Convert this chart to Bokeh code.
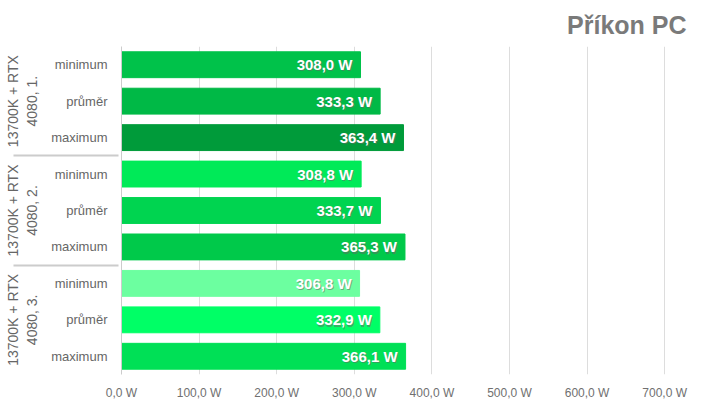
from bokeh.plotting import figure
from bokeh.models import FactorRange, ColumnDataSource, FixedTicker, CustomJSTickFormatter
from bokeh.embed import file_html
from bokeh.resources import INLINE

groups = ["13700K + RTX\n4080, 1.", "13700K + RTX\n4080, 2.", "13700K + RTX\n4080, 3."]
stats = ["minimum", "průměr", "maximum"]
values = [308.0, 333.3, 363.4, 308.8, 333.7, 365.3, 306.8, 332.9, 366.1]
colors = ["#00C24A", "#00B946", "#009B3A", "#00EA58", "#00D450", "#00C94A", "#6CFFA0", "#00FF66", "#00E056"]
ticks = [0, 100, 200, 300, 400, 500, 600, 700]

factors = [(g, s) for g in groups for s in stats]
labels = [f"{v:.1f}".replace(".", ",") + " W" for v in values]

src = ColumnDataSource(dict(y=factors, v=values, c=colors, t=labels))

FONT = "Liberation Sans"

p = figure(width=720, height=405, output_backend="svg", toolbar_location=None,
           y_range=FactorRange(*reversed(factors), factor_padding=0, group_padding=0, range_padding=0),
           x_range=(0, 750), title="Příkon PC",
           min_border_left=121, min_border_right=17, min_border_top=46, min_border_bottom=31)

p.title.align = "right"
p.title.text_font = FONT
p.title.text_font_size = "25px"
p.title.text_font_style = "bold"
p.title.text_color = "#7a7a7a"
p.title.offset = 17
p.title.text_line_height = 0.6
p.title.standoff = 16

p.hbar(y="y", right="v", left=0, height=0.71, color="c", source=src)
p.text(x="v", y="y", text="t", source=src, x_offset=-7, y_offset=1.2, text_align="right",
       text_baseline="middle", text_color="#666666", text_alpha=0.55, text_font_size="15px",
       text_font_style="bold", text_font={"value": FONT})
p.text(x="v", y="y", text="t", source=src, x_offset=-8, text_align="right",
       text_baseline="middle", text_color="white", text_font_size="15px",
       text_font_style="bold", text_font={"value": FONT})

p.outline_line_color = None
p.ygrid.grid_line_color = None
p.xgrid.ticker = FixedTicker(ticks=ticks)
p.xgrid.grid_line_color = "#dddddd"

xa = p.xaxis[0]
xa.ticker = FixedTicker(ticks=ticks)
xa.formatter = CustomJSTickFormatter(code="return tick.toFixed(1).replace('.', ',') + ' W';")
xa.axis_line_color = None
xa.major_tick_line_color = None
xa.minor_tick_line_color = None
xa.major_label_text_font = FONT
xa.major_label_text_font_size = "12px"
xa.major_label_text_color = "#707070"

ya = p.yaxis[0]
ya.axis_line_color = "#cccccc"
ya.major_tick_line_color = None
ya.minor_tick_line_color = None
ya.major_label_text_font = FONT
ya.major_label_text_font_size = "13px"
ya.major_label_text_color = "#666666"
ya.major_label_standoff = 8
ya.group_text_font = FONT
ya.group_text_font_size = "14px"
ya.group_text_color = "#666666"
ya.group_text_font_style = "normal"
ya.group_label_orientation = "vertical"
ya.separator_line_color = "#cccccc"

open("out.html", "w").write(file_html(p, INLINE))
